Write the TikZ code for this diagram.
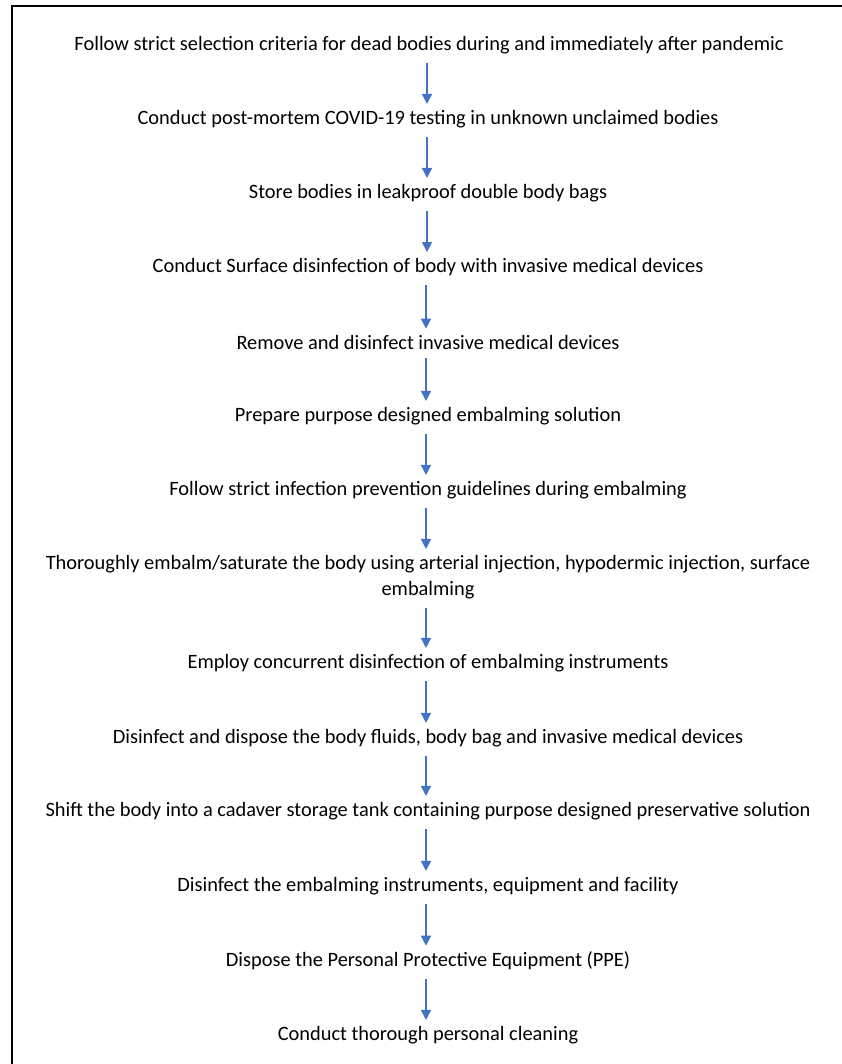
\documentclass[tikz,border=0pt]{standalone}
\usepackage{fontspec}
\setmainfont{Carlito}
\usetikzlibrary{arrows.meta}
\definecolor{flecha}{HTML}{4472C4}
\begin{document}
\begin{tikzpicture}[x=1pt, y=-1pt,
    paso/.style={inner xsep=0pt, inner ysep=6pt, align=center, font=\fontsize{20.4}{26}\selectfont},
    flujo/.style={-{Triangle[width=10pt,length=10pt]}, line width=1.5pt, shorten <=3pt, flecha}]
    % Marco
    \useasboundingbox (0,0) rectangle (842,1064);
    \draw[line width=1.8pt] (12,1064) -- (12,6) -- (842,6);

    % Pasos
    \node[paso] (p1) at (429,45) {Follow strict selection criteria for dead bodies during and immediately after pandemic};
    \node[paso] (p2) at (428,119) {Conduct post-mortem COVID-19 testing in unknown unclaimed bodies};
    \node[paso] (p3) at (428,193) {Store bodies in leakproof double body bags};
    \node[paso] (p4) at (428,267) {Conduct Surface disinfection of body with invasive medical devices};
    \node[paso] (p5) at (428,342) {Remove and disinfect invasive medical devices};
    \node[paso] (p6) at (428,416) {Prepare purpose designed embalming solution};
    \node[paso] (p7) at (428,490) {Follow strict infection prevention guidelines during embalming};
    \node[paso] (p8) at (428,577) {Thoroughly embalm/saturate the body using arterial injection, hypodermic injection, surface\\embalming};
    \node[paso] (p9) at (428,663) {Employ concurrent disinfection of embalming instruments};
    \node[paso] (p10) at (428,738) {Disinfect and dispose the body fluids, body bag and invasive medical devices};
    \node[paso] (p11) at (428,811) {Shift the body into a cadaver storage tank containing purpose designed preservative solution};
    \node[paso] (p12) at (428,886) {Disinfect the embalming instruments, equipment and facility};
    \node[paso] (p13) at (428,961) {Dispose the Personal Protective Equipment (PPE)};
    \node[paso] (p14) at (428,1035) {Conduct thorough personal cleaning};

    % Flechas
    \draw[flujo] (p1.south -| 427,0) -- (p2.north -| 427,0);
    \draw[flujo] (p2.south -| 427,0) -- (p3.north -| 427,0);
    \draw[flujo] (p3.south -| 427,0) -- (p4.north -| 427,0);
    \draw[flujo] (p4.south -| 426,0) -- (p5.north -| 426,0);
    \draw[flujo] (p5.south -| 426,0) -- (p6.north -| 426,0);
    \draw[flujo] (p6.south -| 426,0) -- (p7.north -| 426,0);
    \draw[flujo] (p7.south -| 426,0) -- (p8.north -| 426,0);
    \draw[flujo] (p8.south -| 426,0) -- (p9.north -| 426,0);
    \draw[flujo] (p9.south -| 426,0) -- (p10.north -| 426,0);
    \draw[flujo] (p10.south -| 426,0) -- (p11.north -| 426,0);
    \draw[flujo] (p11.south -| 426,0) -- (p12.north -| 426,0);
    \draw[flujo] (p12.south -| 426,0) -- (p13.north -| 426,0);
    \draw[flujo] (p13.south -| 426,0) -- (p14.north -| 426,0);
\end{tikzpicture}
\end{document}
